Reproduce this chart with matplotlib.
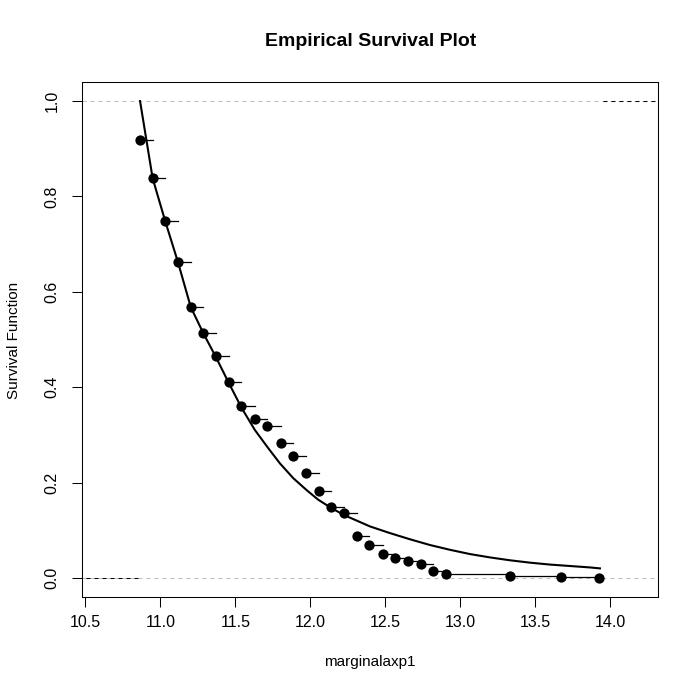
import matplotlib
matplotlib.use("Agg")
import matplotlib.pyplot as plt

# Empirical survival points (x, S(x))
surv_x = [10.865, 10.949, 11.033, 11.118, 11.203, 11.287, 11.371, 11.458, 11.540,
          11.629, 11.713, 11.805, 11.886, 11.971, 12.055, 12.141, 12.226, 12.311,
          12.393, 12.483, 12.567, 12.651, 12.736, 12.820, 12.905, 13.331, 13.673,
          13.927]
surv_y = [0.918, 0.839, 0.748, 0.662, 0.568, 0.513, 0.465, 0.410, 0.360,
          0.333, 0.319, 0.284, 0.255, 0.221, 0.182, 0.148, 0.136, 0.087,
          0.069, 0.050, 0.041, 0.035, 0.029, 0.015, 0.008, 0.004, 0.002,
          0.000]

# Fitted survival curve
curve_x = [10.865, 10.949, 11.033, 11.118, 11.203, 11.287, 11.371, 11.458, 11.543,
           11.631, 11.720, 11.798, 11.887, 11.976, 12.053, 12.143, 12.231, 12.398,
           12.531, 12.665, 12.798, 12.931, 13.065, 13.198, 13.331, 13.465, 13.598,
           13.731, 13.865, 13.931]
curve_y = [1.000, 0.838, 0.748, 0.662, 0.568, 0.513, 0.463, 0.408, 0.356,
           0.310, 0.272, 0.240, 0.209, 0.184, 0.164, 0.146, 0.131, 0.108,
           0.094, 0.081, 0.069, 0.059, 0.050, 0.043, 0.037, 0.032, 0.028,
           0.025, 0.022, 0.020]

x_ticks = [10.5, 11.0, 11.5, 12.0, 12.5, 13.0, 13.5, 14.0]
x_tick_labels = ["10.5", "11.0", "11.5", "12.0", "12.5", "13.0", "13.5", "14.0"]
y_ticks = [0.0, 0.2, 0.4, 0.6, 0.8, 1.0]
y_tick_labels = ["0.0", "0.2", "0.4", "0.6", "0.8", "1.0"]

title = "Empirical Survival Plot"
xlabel = "marginalaxp1"
ylabel = "Survival Function"

plt.rcParams['font.family'] = ['Liberation Sans', 'DejaVu Sans']

W = H = 700
fig = plt.figure(figsize=(7, 7), dpi=100)
ax = fig.add_axes([82 / W, 1 - 597 / H, 576 / W, 515 / H])
xlim = (10.478, 14.318)
ax.set_xlim(*xlim)
ax.set_ylim(-0.04, 1.04)

dash = (0, (3.84, 3.84))
# grey reference lines
ax.axhline(0, color="#bebebe", lw=0.75, linestyle=dash, zorder=1)
ax.axhline(1, color="#bebebe", lw=0.75, linestyle=dash, zorder=1)
# black dashed extensions
ax.plot([xlim[0], surv_x[0]], [0, 0], color="black", lw=0.75,
        linestyle=(3.84, (3.84, 3.84)), zorder=2)
ax.plot([surv_x[-1], xlim[1]], [1, 1], color="black", lw=0.75,
        linestyle=(3.84, (3.84, 3.84)), zorder=2)

# step segments
for i in range(len(surv_x) - 1):
    ax.plot([surv_x[i], surv_x[i + 1]], [surv_y[i], surv_y[i]],
            color="black", lw=0.9, zorder=3)
# points
ax.plot(surv_x, surv_y, "o", color="black", markersize=7.4,
        markeredgewidth=0, zorder=4)
# fitted curve
ax.plot(curve_x, curve_y, color="black", lw=1.5, zorder=3)

ax.set_xticks(x_ticks)
ax.set_xticklabels(x_tick_labels)
ax.set_yticks(y_ticks)
ax.set_yticklabels(y_tick_labels, rotation=90, va="center")
ax.tick_params(axis="both", direction="out", length=7, width=0.75,
               labelsize=11.5, colors="black")
ax.tick_params(axis="x", pad=6)
ax.tick_params(axis="y", pad=9)
for s in ax.spines.values():
    s.set_linewidth(0.75)

fig.text(371 / W, 1 - 42 / H, title, ha="center", va="center",
         fontsize=14, fontweight="bold")
fig.text(370 / W, 1 - 662 / H, xlabel, ha="center", va="center", fontsize=11)
fig.text(14 / W, 1 - 340 / H, ylabel, ha="center", va="center", fontsize=11,
         rotation=90)

fig.savefig("out.png", dpi=100)
